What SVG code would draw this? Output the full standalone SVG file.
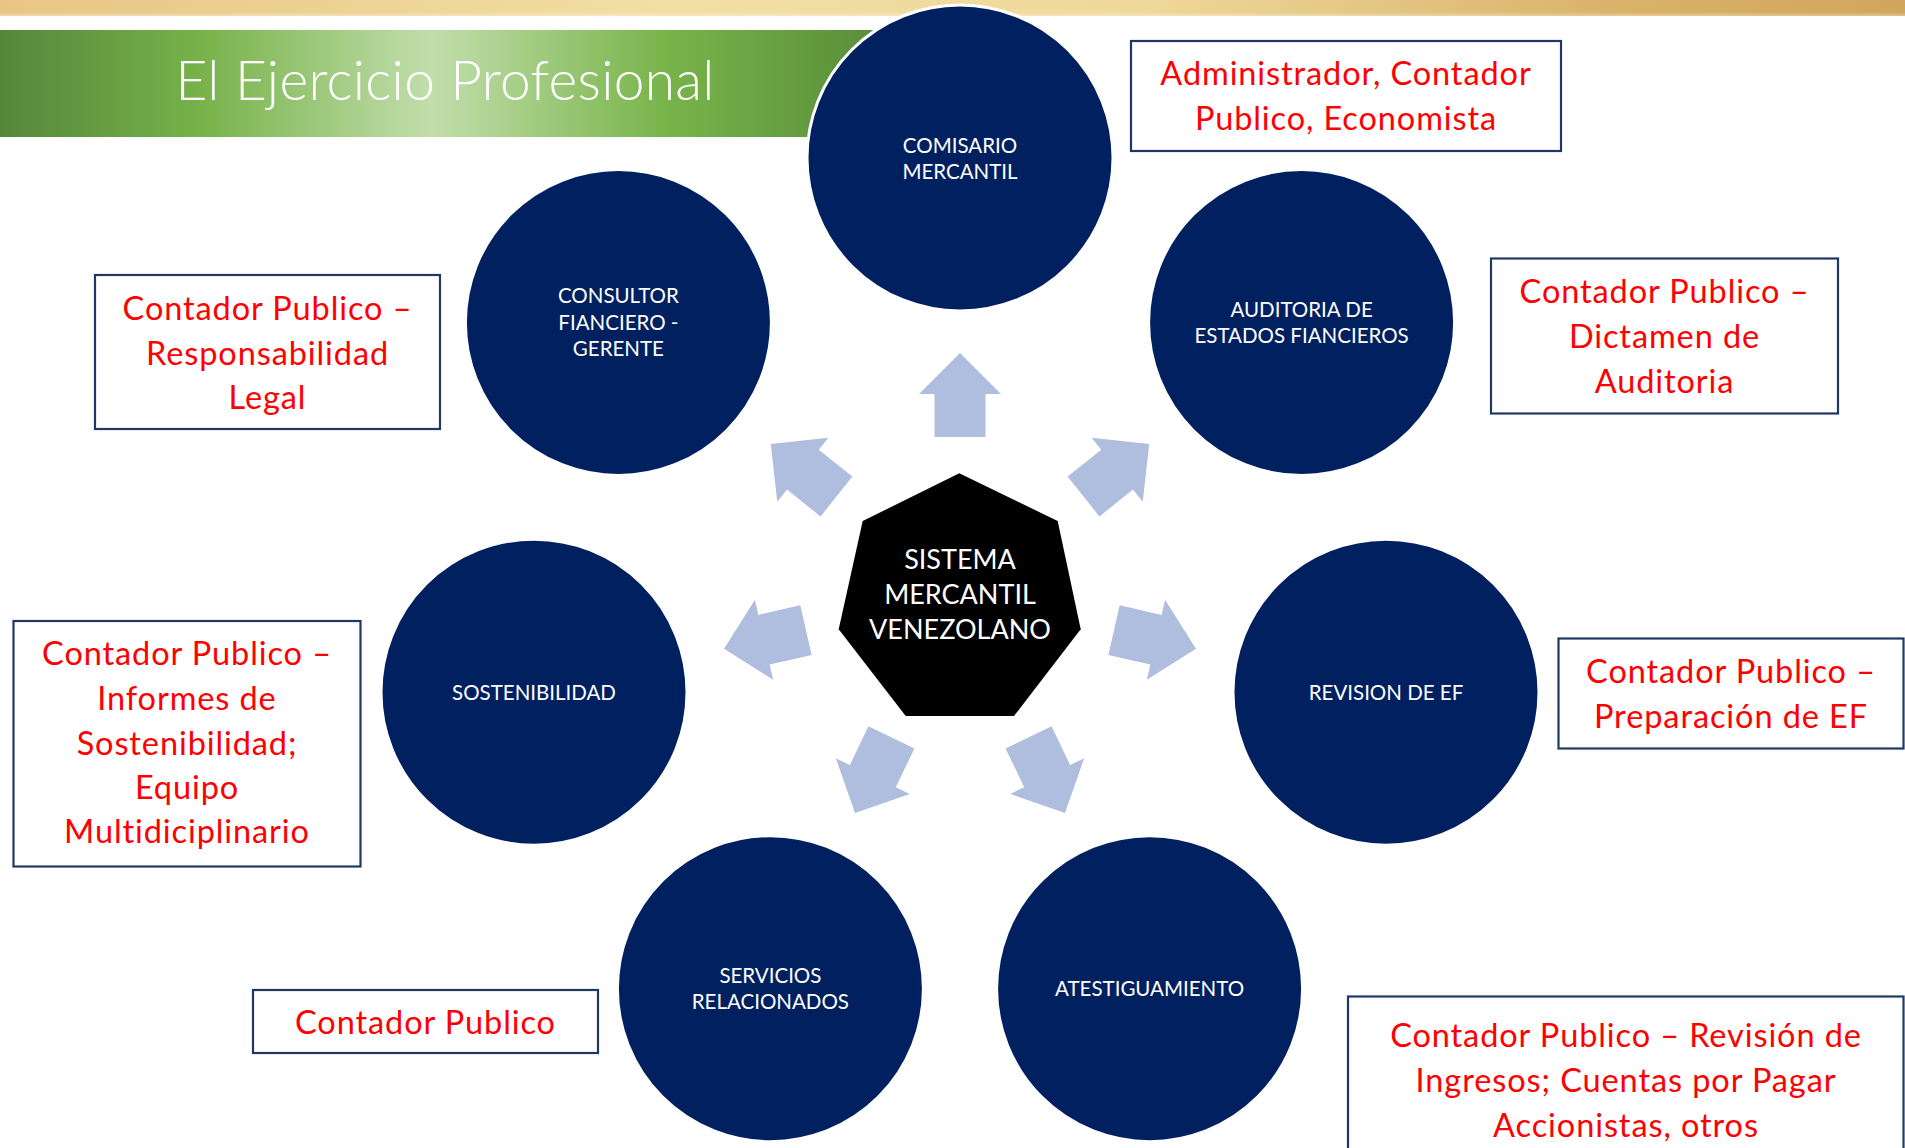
<svg xmlns="http://www.w3.org/2000/svg" width="1905" height="1148" viewBox="0 0 1905 1148">
  <defs>
    <linearGradient id="gold" x1="0" y1="0" x2="1" y2="0">
      <stop offset="0" stop-color="#E8C584"/>
      <stop offset="0.35" stop-color="#F2DFA4"/>
      <stop offset="0.6" stop-color="#EFD89A"/>
      <stop offset="0.85" stop-color="#D9B26A"/>
      <stop offset="1" stop-color="#D2A55E"/>
    </linearGradient>
    <linearGradient id="fade" x1="0" y1="0" x2="0" y2="1">
      <stop offset="0" stop-color="#ffffff" stop-opacity="0"/>
      <stop offset="1" stop-color="#ffffff" stop-opacity="1"/>
    </linearGradient>
    <linearGradient id="green" x1="0" y1="0" x2="1" y2="0">
      <stop offset="0" stop-color="#55873A"/>
      <stop offset="0.22" stop-color="#76B249"/>
      <stop offset="0.48" stop-color="#C2DEAC"/>
      <stop offset="0.74" stop-color="#78B44A"/>
      <stop offset="1" stop-color="#558A38"/>
    </linearGradient>
    <path id="arrow" d="M0,-242 L41,-201 L25.5,-201 L25.5,-158 L-25.5,-158 L-25.5,-201 L-41,-201 Z"/>
  </defs>
  <style>
    .circle { fill: #002060; stroke: #ffffff; stroke-width: 3; }
    .ctext { fill: #ffffff; font-family: Lato, "Liberation Sans", sans-serif; font-size: 20.5px; text-anchor: middle; }
    .box { fill: #ffffff; stroke: #1F3864; stroke-width: 2.2; }
    .btext { fill: #FF0000; font-family: Lato, "Liberation Sans", sans-serif; font-size: 32.5px; letter-spacing: 0.9px; text-anchor: middle; }
    .arr { fill: #AFBDDE; }
    .htext { fill: #ffffff; font-family: Lato, "Liberation Sans", sans-serif; font-size: 27px; text-anchor: middle; }
  </style>
  <rect width="1905" height="1148" fill="#ffffff"/>
  <!-- header -->
  <rect x="0" y="0" width="1905" height="16" fill="url(#gold)"/>
  <rect x="0" y="12" width="1905" height="12" fill="url(#fade)"/>
  <rect x="0" y="30" width="900" height="107" fill="url(#green)"/>
  <text x="445" y="100" fill="#ffffff" font-family="Lato, 'Liberation Sans', sans-serif" font-weight="300" font-size="55" letter-spacing="0.3" text-anchor="middle">El Ejercicio Profesional</text>

  <g id="connectors">
    <use href="#arrow" class="arr" transform="translate(960,595) rotate(0)"/>
    <use href="#arrow" class="arr" transform="translate(960,595) rotate(51.43)"/>
    <use href="#arrow" class="arr" transform="translate(960,595) rotate(102.86)"/>
    <use href="#arrow" class="arr" transform="translate(960,595) rotate(154.29)"/>
    <use href="#arrow" class="arr" transform="translate(960,595) rotate(205.71)"/>
    <use href="#arrow" class="arr" transform="translate(960,595) rotate(257.14)"/>
    <use href="#arrow" class="arr" transform="translate(960,595) rotate(308.57)"/>
  </g>

  <g id="center">
    <polygon points="959.3,473.3 1057.7,521 1080.7,629.3 1014,716 905.7,716 838.7,629.3 862.7,521" fill="#000000"/>
    <text class="htext" x="960" y="569">SISTEMA</text>
    <text class="htext" x="960" y="604">MERCANTIL</text>
    <text class="htext" x="960" y="639">VENEZOLANO</text>
  </g>

  <g id="comisario">
    <circle class="circle" cx="960" cy="158" r="153"/>
    <text class="ctext" x="960" y="153">COMISARIO</text>
    <text class="ctext" x="960" y="179">MERCANTIL</text>
  </g>
  <g id="auditoria">
    <circle class="circle" cx="1301.6" cy="322.5" r="153"/>
    <text class="ctext" x="1301.6" y="317">AUDITORIA DE</text>
    <text class="ctext" x="1301.6" y="343">ESTADOS FIANCIEROS</text>
  </g>
  <g id="revision">
    <circle class="circle" cx="1386" cy="692.2" r="153"/>
    <text class="ctext" x="1386" y="699.7">REVISION DE EF</text>
  </g>
  <g id="atestiguamiento">
    <circle class="circle" cx="1149.6" cy="988.7" r="153"/>
    <text class="ctext" x="1149.6" y="996.2">ATESTIGUAMIENTO</text>
  </g>
  <g id="servicios">
    <circle class="circle" cx="770.4" cy="988.7" r="153"/>
    <text class="ctext" x="770.4" y="983.2">SERVICIOS</text>
    <text class="ctext" x="770.4" y="1009.2">RELACIONADOS</text>
  </g>
  <g id="sostenibilidad">
    <circle class="circle" cx="534" cy="692.2" r="153"/>
    <text class="ctext" x="534" y="699.7">SOSTENIBILIDAD</text>
  </g>
  <g id="consultor">
    <circle class="circle" cx="618.4" cy="322.5" r="153"/>
    <text class="ctext" x="618.4" y="303.3">CONSULTOR</text>
    <text class="ctext" x="618.4" y="330">FIANCIERO -</text>
    <text class="ctext" x="618.4" y="355.5">GERENTE</text>
  </g>

  <g id="box-comisario">
    <rect class="box" x="1131" y="41" width="430" height="110"/>
    <text class="btext" x="1346" y="85">Administrador, Contador</text>
    <text class="btext" x="1346" y="130">Publico, Economista</text>
  </g>
  <g id="box-auditoria">
    <rect class="box" x="1491" y="258.5" width="347" height="155"/>
    <text class="btext" x="1664.5" y="303.3">Contador Publico –</text>
    <text class="btext" x="1664.5" y="348">Dictamen de</text>
    <text class="btext" x="1664.5" y="392.7">Auditoria</text>
  </g>
  <g id="box-revision">
    <rect class="box" x="1558.5" y="638.5" width="345" height="110"/>
    <text class="btext" x="1731" y="683.3">Contador Publico –</text>
    <text class="btext" x="1731" y="728.3">Preparación de EF</text>
  </g>
  <g id="box-atestiguamiento">
    <rect class="box" x="1348" y="996.5" width="555.5" height="160"/>
    <text class="btext" x="1626" y="1046.7">Contador Publico – Revisión de</text>
    <text class="btext" x="1626" y="1091.7">Ingresos; Cuentas por Pagar</text>
    <text class="btext" x="1626" y="1137">Accionistas, otros</text>
  </g>
  <g id="box-servicios">
    <rect class="box" x="253" y="990" width="345" height="63"/>
    <text class="btext" x="425.5" y="1034">Contador Publico</text>
  </g>
  <g id="box-sostenibilidad">
    <rect class="box" x="13.5" y="621" width="347" height="245.5"/>
    <text class="btext" x="187" y="665">Contador Publico –</text>
    <text class="btext" x="187" y="710">Informes de</text>
    <text class="btext" x="187" y="755">Sostenibilidad;</text>
    <text class="btext" x="187" y="798.5">Equipo</text>
    <text class="btext" x="187" y="843.3">Multidiciplinario</text>
  </g>
  <g id="box-consultor">
    <rect class="box" x="95" y="275" width="345" height="154"/>
    <text class="btext" x="267.5" y="320">Contador Publico –</text>
    <text class="btext" x="267.5" y="364.7">Responsabilidad</text>
    <text class="btext" x="267.5" y="409.4">Legal</text>
  </g>
</svg>
